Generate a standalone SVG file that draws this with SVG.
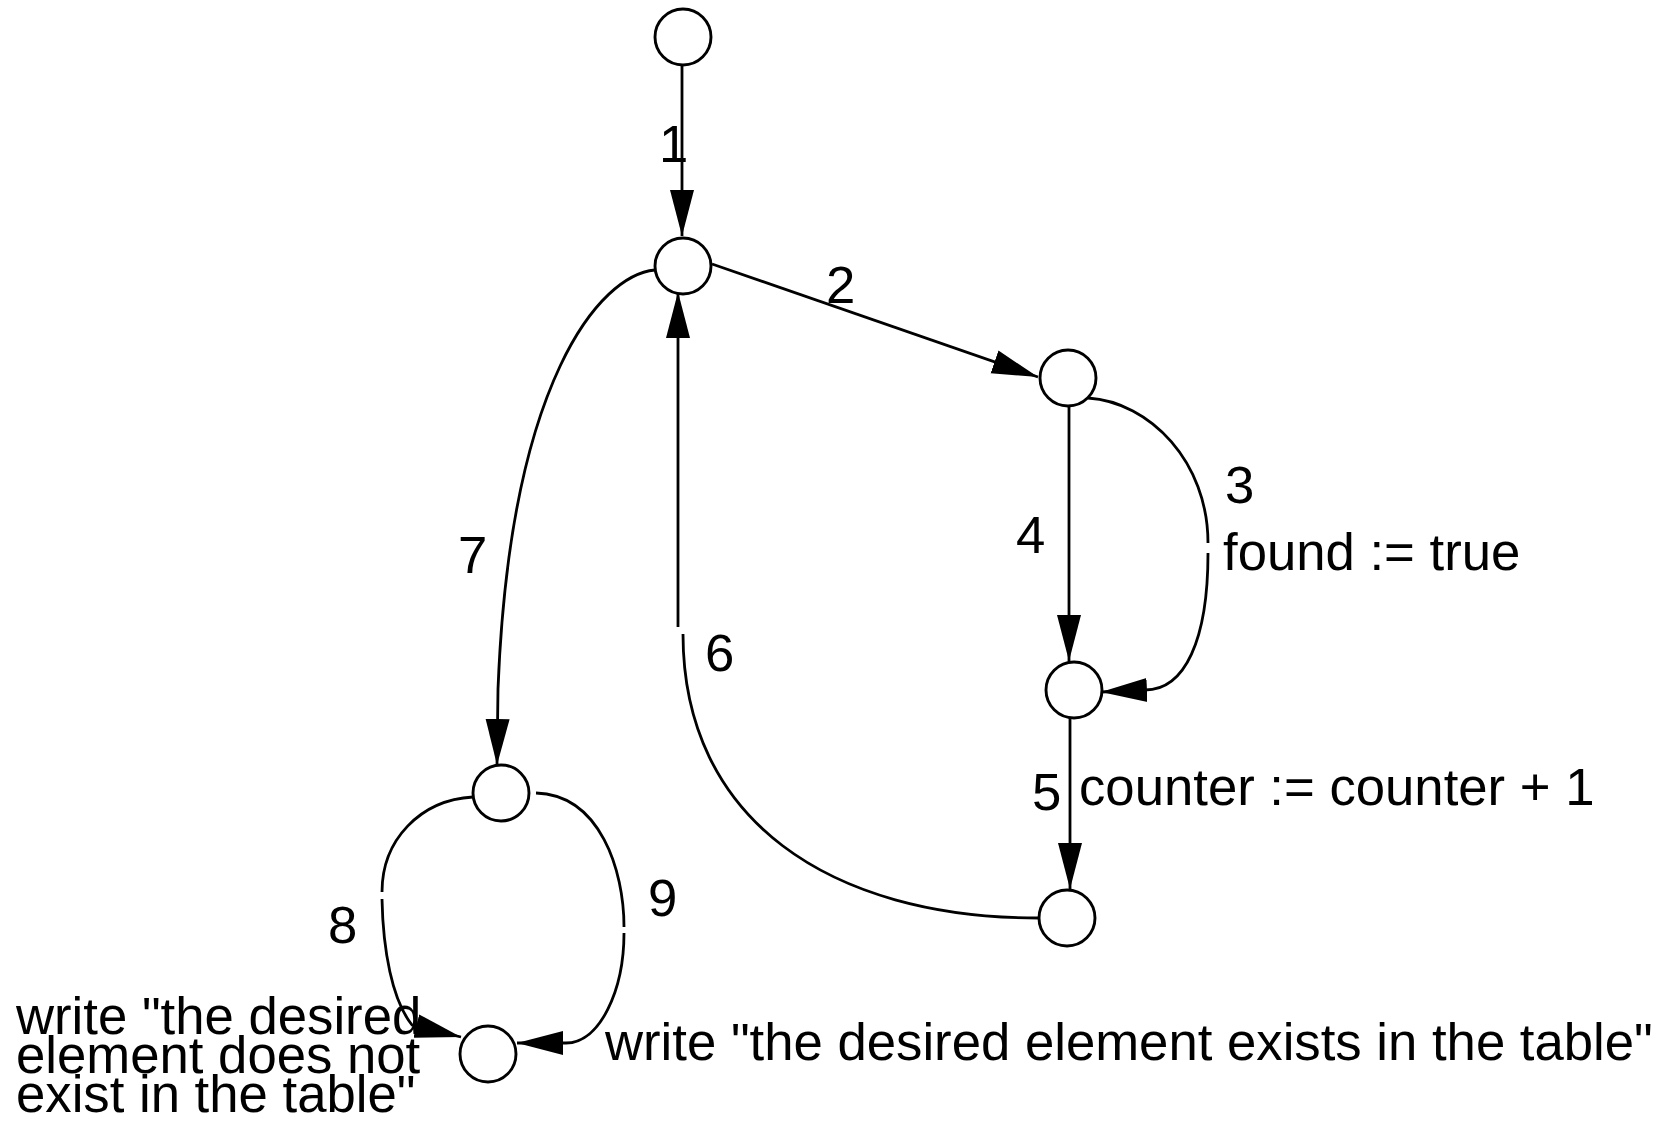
<svg xmlns="http://www.w3.org/2000/svg" width="1665" height="1121" viewBox="0 0 1665 1121">
<style>
.node{fill:#fff;stroke:#000;stroke-width:2.9}
.edge{fill:none;stroke:#000;stroke-width:2.8;stroke-linecap:butt}
.lbl{font-family:"Liberation Sans",Arial,Helvetica,sans-serif;font-size:52.7px;fill:#000}
</style>
<defs>
<marker id="arr" markerUnits="userSpaceOnUse" viewBox="0 0 46 26" refX="46" refY="13" markerWidth="46" markerHeight="26" orient="auto">
<path d="M0,1 L46,13 L0,25 z" fill="#000"/>
</marker>
</defs>
<rect width="1665" height="1121" fill="#fff"/>
<g id="connectors">
<path class="edge" d="M682,65 L682,236" marker-end="url(#arr)"/>
<path class="edge" d="M712,264 L1038,377" marker-end="url(#arr)"/>
<path class="edge" d="M1088,398 C1150,402 1208,462 1208,543"/>
<path class="edge" d="M1208,553 C1208,640 1185,690 1145,690 L1101,692" marker-end="url(#arr)"/>
<path class="edge" d="M1069,407 L1069,661" marker-end="url(#arr)"/>
<path class="edge" d="M1070,718 L1070,889" marker-end="url(#arr)"/>
<path class="edge" d="M1039,918 C830,918 683,820 683,634"/>
<path class="edge" d="M678,627 L678,292" marker-end="url(#arr)"/>
<path class="edge" d="M655,270 C600,275 510,380 498,689 L497,765" marker-end="url(#arr)"/>
<path class="edge" d="M473,797 C420,800 382,840 382,892"/>
<path class="edge" d="M382,899 C383,950 392,1000 412,1025 L461,1037" marker-end="url(#arr)"/>
<path class="edge" d="M536,793 C600,795 624,870 624,927"/>
<path class="edge" d="M624,933 C624,990 600,1043 566,1043 L517,1043" marker-end="url(#arr)"/>
</g>
<g id="n1"><circle class="node" cx="683" cy="37" r="28"/></g>
<g id="n2"><circle class="node" cx="683" cy="266" r="28"/></g>
<g id="n3"><circle class="node" cx="1068" cy="378" r="28"/></g>
<g id="n4"><circle class="node" cx="1074" cy="690" r="28"/></g>
<g id="n5"><circle class="node" cx="1067" cy="918" r="28"/></g>
<g id="n6"><circle class="node" cx="501" cy="793" r="28"/></g>
<g id="n7"><circle class="node" cx="488" cy="1054" r="28"/></g>
<g id="labels">
<text class="lbl" x="659" y="162">1</text>
<text class="lbl" x="826" y="303">2</text>
<text class="lbl" x="1225" y="503">3</text>
<text class="lbl" x="1223" y="570">found := true</text>
<text class="lbl" x="1016" y="553">4</text>
<text class="lbl" x="1032" y="810">5</text>
<text class="lbl" x="1079" y="805">counter := counter + 1</text>
<text class="lbl" x="705" y="671">6</text>
<text class="lbl" x="458" y="573">7</text>
<text class="lbl" x="328" y="943">8</text>
<text class="lbl" x="648" y="916">9</text>
<text class="lbl"><tspan x="16" y="1034">write "the desired</tspan><tspan x="16" y="1073">element does not</tspan><tspan x="16" y="1112">exist in the table"</tspan></text>
<text class="lbl" x="605" y="1060">write "the desired element exists in the table"</text>
</g>
</svg>
